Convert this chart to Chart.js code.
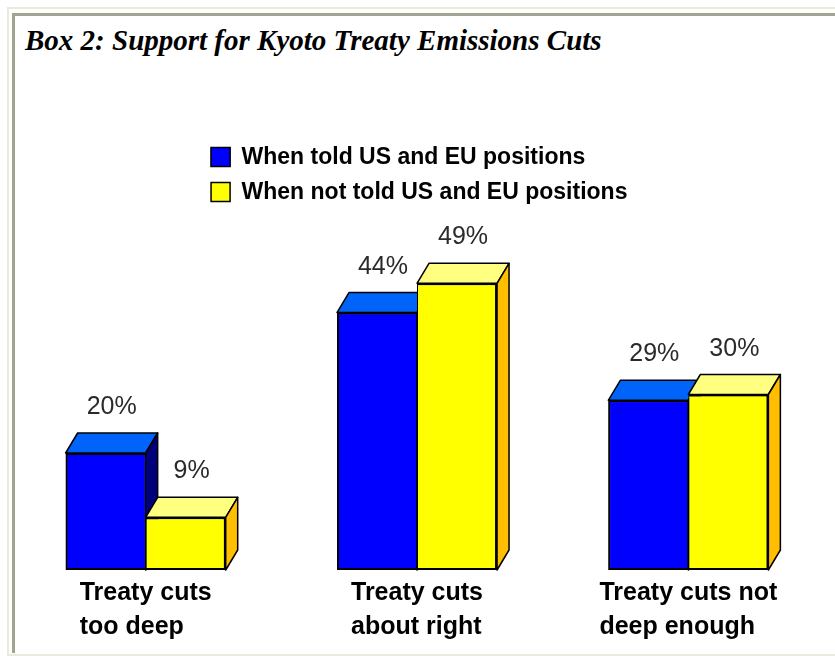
<!DOCTYPE html>
<html>
<head>
<meta charset="utf-8">
<script src="https://cdn.jsdelivr.net/npm/chart.js@4/dist/chart.umd.min.js"></script>
<style>
  html, body { margin: 0; padding: 0; background: #fff; }
  .outer {
    position: absolute; left: 7px; top: 7px; width: 900px; height: 645px;
    border-left: 2px solid #ebebdc; border-top: 2px solid #ebebdc; border-bottom: 2px solid #ebebdc;
  }
  .inner {
    position: absolute; left: 12px; top: 13px; width: 900px; height: 637px;
    border-left: 3px solid #a3a394; border-top: 3px solid #a3a394;
  }
  .title {
    position: absolute; left: 25px; top: 23px; margin: 0;
    font: italic bold 29px/34px "Liberation Serif", "Times New Roman", serif;
    color: #000; white-space: nowrap;
  }
  canvas { position: absolute; left: 0; top: 0; }
</style>
</head>
<body>
<div class="outer"></div>
<div class="inner"></div>
<h1 class="title">Box 2: Support for Kyoto Treaty Emissions Cuts</h1>
<canvas id="kyoto" width="835" height="656"></canvas>
<script>
// categories and survey results (%)
const categories = [
    ['Treaty cuts', 'too deep'],
    ['Treaty cuts', 'about right'],
    ['Treaty cuts not', 'deep enough']
];
const toldLabel = 'When told US and EU positions';
const notToldLabel = 'When not told US and EU positions';
const toldValues = [20, 44, 29];
const notToldValues = [9, 49, 30];

// face colours for the fake 3d blocks
const blueFaces = { front: '#0000ff', top: '#0064fa', side: '#00007a' };
const yellowFaces = { front: '#ffff00', top: '#ffff80', side: '#ffbf00' };
const DEPTH_X = 12;
const DEPTH_Y = -20;

function poly(ctx, pts, fill) {
    ctx.beginPath();
    ctx.moveTo(pts[0][0], pts[0][1]);
    for (let i = 1; i < pts.length; i++) ctx.lineTo(pts[i][0], pts[i][1]);
    ctx.closePath();
    ctx.fillStyle = fill;
    ctx.fill();
    ctx.stroke();
}

// chart.js paints dataset 0 last, so repaint the fronts left-to-right
// and put the top + right side on every block as we go
const blockFaces = {
    id: 'blockFaces',
    afterDatasetsDraw(chart) {
        const ctx = chart.ctx;
        chart.data.datasets.forEach((ds, i) => {
            const meta = chart.getDatasetMeta(i);
            meta.data.forEach(bar => {
                bar.draw(ctx);
                const l = bar.x - bar.width / 2;
                const r = bar.x + bar.width / 2;
                const t = bar.y;
                const b = bar.base;
                ctx.save();
                ctx.strokeStyle = '#000';
                ctx.lineWidth = 1.5;
                ctx.lineJoin = 'round';
                poly(ctx, [[l, t], [l + DEPTH_X, t + DEPTH_Y], [r + DEPTH_X, t + DEPTH_Y], [r, t]], ds.faces.top);
                poly(ctx, [[r, t], [r + DEPTH_X, t + DEPTH_Y], [r + DEPTH_X, b + DEPTH_Y], [r, b]], ds.faces.side);
                ctx.restore();
            });
        });
    }
};

// value labels, legend and the category captions
const decorations = {
    id: 'decorations',
    afterDraw(chart) {
        const ctx = chart.ctx;
        const area = chart.chartArea;
        const xScale = chart.scales.x;
        ctx.save();

        // percentages over each block
        ctx.font = '25px "Liberation Sans", Arial, sans-serif';
        ctx.fillStyle = '#2a2a2a';
        ctx.textAlign = 'center';
        ctx.textBaseline = 'alphabetic';
        chart.data.datasets.forEach((ds, i) => {
            chart.getDatasetMeta(i).data.forEach((bar, j) => {
                ctx.fillText(ds.data[j] + '%', bar.x + DEPTH_X / 2, bar.y + DEPTH_Y - 19);
            });
        });

        // legend: stacked rows, left aligned, centred as a block
        ctx.font = 'bold 23px "Liberation Sans", Arial, sans-serif';
        const box = 20, gap = 11, rowH = 35;
        const widths = chart.data.datasets.map(ds => ctx.measureText(ds.label).width);
        const blockW = box + gap + Math.max(...widths);
        const lx = (area.left + area.right) / 2 - blockW / 2 + 2;
        const ly = 147;
        ctx.textAlign = 'left';
        ctx.textBaseline = 'middle';
        chart.data.datasets.forEach((ds, i) => {
            const y = ly + i * rowH;
            ctx.fillStyle = ds.backgroundColor;
            ctx.fillRect(lx, y, box, box);
            ctx.strokeStyle = '#000';
            ctx.lineWidth = 1.5;
            ctx.strokeRect(lx + 0.5, y + 0.5, box - 1, box - 1);
            ctx.fillStyle = '#000';
            ctx.fillText(ds.label, lx + box + gap, y + box / 2 + 1);
        });

        // category captions: lines left aligned, block centred on the group
        ctx.font = 'bold 25px "Liberation Sans", Arial, sans-serif';
        ctx.textBaseline = 'alphabetic';
        ctx.fillStyle = '#000';
        chart.data.labels.forEach((lines, i) => {
            const w = Math.max(...lines.map(s => ctx.measureText(s).width));
            const cx = xScale.getPixelForValue(i);
            lines.forEach((s, k) => ctx.fillText(s, cx - w / 2, 600 + k * 34));
        });
        ctx.restore();
    }
};

new Chart(document.getElementById('kyoto'), {
    type: 'bar',
    data: {
        labels: categories,
        datasets: [
            {
                label: toldLabel,
                data: toldValues,
                backgroundColor: blueFaces.front,
                borderColor: '#000',
                borderWidth: { left: 2, top: 2, bottom: 2, right: 1 },
                borderSkipped: false,
                faces: blueFaces
            },
            {
                label: notToldLabel,
                data: notToldValues,
                backgroundColor: yellowFaces.front,
                borderColor: '#000',
                borderWidth: { left: 1, top: 2, bottom: 2, right: 2 },
                borderSkipped: false,
                faces: yellowFaces
            }
        ]
    },
    options: {
        responsive: false,
        animation: false,
        events: [],
        layout: { padding: { left: 10, right: 11, top: 219, bottom: 86 } },
        datasets: { bar: { barPercentage: 1, categoryPercentage: 0.59 } },
        scales: {
            x: { display: false },
            y: { display: false, min: 0, max: 60 }
        },
        plugins: {
            legend: { display: false },
            tooltip: { enabled: false }
        }
    },
    plugins: [blockFaces, decorations]
});
</script>
</body>
</html>
